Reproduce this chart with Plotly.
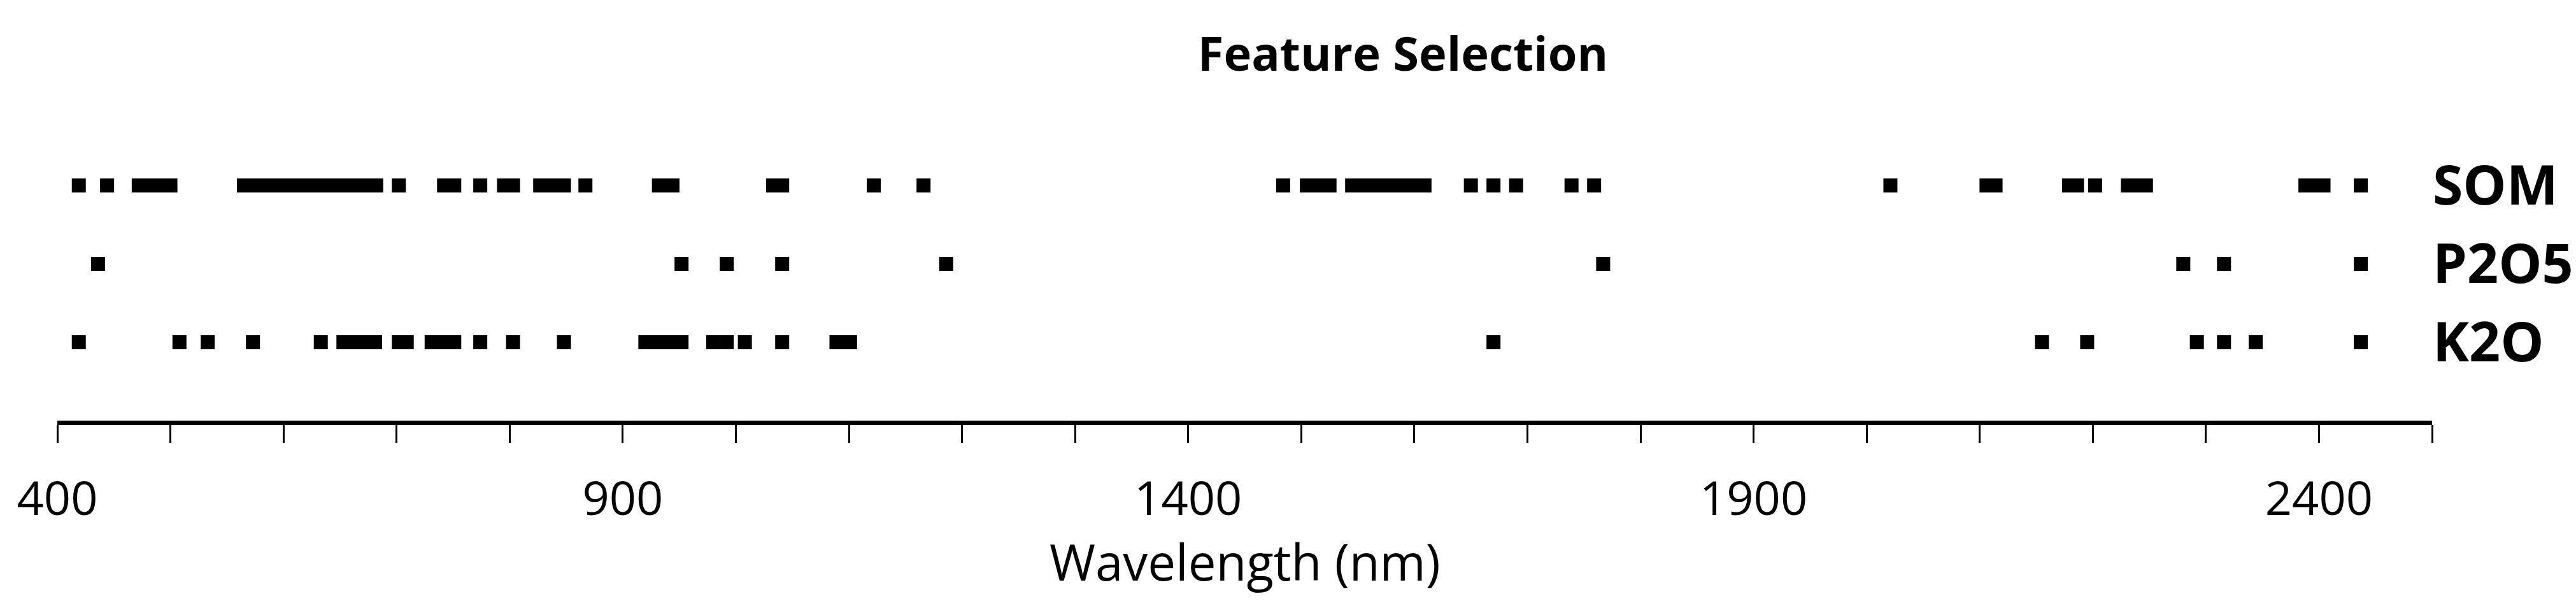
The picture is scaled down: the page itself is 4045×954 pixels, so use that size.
import plotly.graph_objects as go

# ── Selected wavelengths (nm) ──
SOM = [419, 444, 472, 481, 491, 500, 565, 575, 586, 596, 607, 617, 628, 638,
       649, 659, 670, 682, 702, 742, 751, 774, 795, 803, 827, 838, 848, 867,
       932, 944, 1033, 1041, 1122, 1166, 1484, 1505, 1515, 1525, 1545, 1556,
       1566, 1577, 1588, 1598, 1609, 1650, 1670, 1690, 1739, 1759, 2021, 2106,
       2114, 2179, 2186, 2202, 2231, 2239, 2247, 2388, 2396, 2404, 2437]
P2O5 = [436, 952, 992, 1041, 1186, 1767, 2280, 2316, 2437]
K2O = [419, 508, 533, 573, 633, 653, 662, 672, 681, 702, 709, 731, 741, 751,
       774, 803, 848, 920, 931, 941, 952, 980, 992, 1008, 1041, 1089, 1101,
       1670, 2155, 2195, 2292, 2316, 2344, 2437]

ROWS = ["K2O", "P2O5", "SOM"]          # bottom to top
ROW_DATA = {"SOM": SOM, "P2O5": P2O5, "K2O": K2O}
X_RANGE = [400, 2500]
MAJOR_TICKS = [400, 900, 1400, 1900, 2400]

FONT = "Open Sans"

fig = go.Figure()
for name in ROWS:
    xs = ROW_DATA[name]
    fig.add_trace(go.Scatter(
        x=xs, y=[name] * len(xs), mode="markers", name=name,
        marker=dict(symbol="square", size=22, color="black", line=dict(width=0)),
        showlegend=False,
    ))

fig.update_xaxes(
    range=X_RANGE,
    tickvals=MAJOR_TICKS,
    ticks="outside", ticklen=28, tickwidth=3, tickcolor="black",
    minor=dict(dtick=100, tick0=400, ticks="outside", ticklen=28,
               tickwidth=3, tickcolor="black", showgrid=False),
    showline=True, linewidth=7, linecolor="black",
    showgrid=False, zeroline=False,
    tickfont=dict(family=FONT, size=74, color="black"),
    ticklabelstandoff=24,
)
fig.update_yaxes(
    type="category", categoryorder="array", categoryarray=ROWS,
    range=[-1, 3],
    side="right", showline=False, showgrid=False, zeroline=False,
    ticks="", ticklabelstandoff=0,
    tickfont=dict(family=FONT, size=86, color="black", weight="bold"),
)

# x-axis title placed as an annotation so it sits close under the tick labels
fig.add_annotation(
    text="Wavelength (nm)", xref="paper", yref="paper",
    x=0.5, y=-0.45, xanchor="center", yanchor="middle", showarrow=False,
    font=dict(family=FONT, size=78, color="black"),
)

fig.update_layout(
    width=4045, height=954,
    paper_bgcolor="white", plot_bgcolor="white",
    margin=dict(l=82, r=227, t=160, b=302),
    title=dict(
        text="Feature Selection",
        x=2195 / 4045, xanchor="center", y=1 - 77 / 954, yanchor="middle",
        font=dict(family=FONT, size=74, color="black", weight="bold"),
    ),
)

fig.write_html("out.html")
